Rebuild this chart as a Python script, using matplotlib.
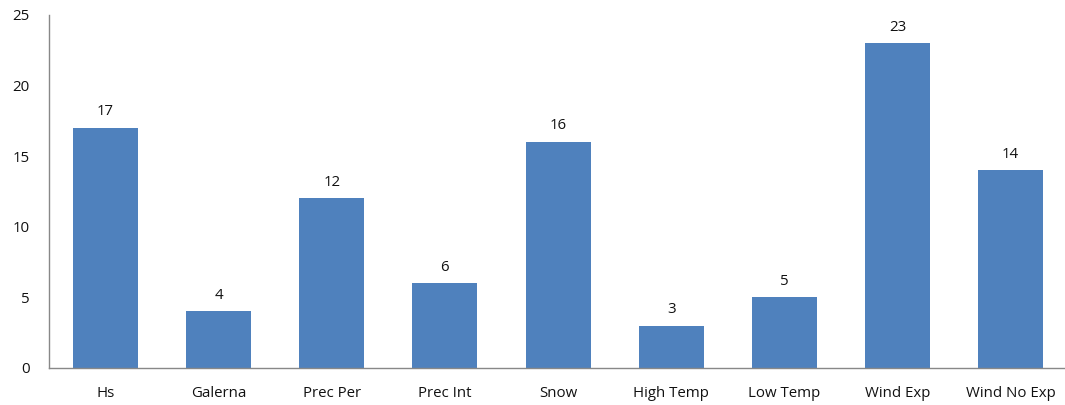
import matplotlib
matplotlib.use("Agg")
import matplotlib.pyplot as plt

categories = ["Hs", "Galerna", "Prec Per", "Prec Int", "Snow",
              "High Temp", "Low Temp", "Wind Exp", "Wind No Exp"]
values = [17, 4, 12, 6, 16, 3, 5, 23, 14]
yticks = [0, 5, 10, 15, 20, 25]

plt.rcParams['font.family'] = ['Open Sans', 'DejaVu Sans']

fig = plt.figure(figsize=(10.65, 4.05), dpi=100)
ax = fig.add_axes([0.046, 0.0914, 0.956, 0.872])

x = range(len(categories))
bars = ax.bar(x, values, width=0.575, color="#4F81BD")
for b, v in zip(bars, values):
    ax.text(b.get_x() + b.get_width() / 2, v + 0.6, str(v),
            ha="center", va="bottom", fontsize=10.8, color="#111111")

ax.set_xlim(-0.5, len(categories) - 0.5)
ax.set_ylim(0, 25)
ax.set_yticks(yticks)
ax.set_xticks(list(x))
ax.set_xticklabels(categories)
ax.tick_params(length=0, labelsize=10.8, colors="#111111")
ax.tick_params(axis="x", pad=13)
ax.tick_params(axis="y", pad=14)
for s in ["top", "right"]:
    ax.spines[s].set_visible(False)
for s in ["left", "bottom"]:
    ax.spines[s].set_color("#888888")
    ax.spines[s].set_linewidth(1)

fig.savefig("out.png", dpi=100)
